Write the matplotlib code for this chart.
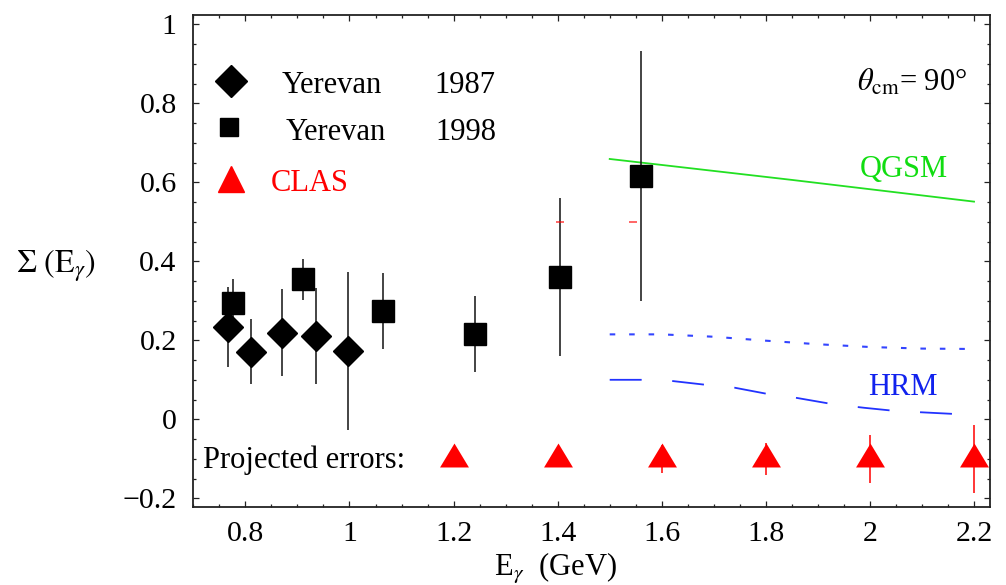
import numpy as np
import matplotlib
matplotlib.use("Agg")
import matplotlib.pyplot as plt
from matplotlib.ticker import FixedLocator, MultipleLocator

plt.rcParams['font.family'] = ['Liberation Serif', 'DejaVu Serif']
plt.rcParams['mathtext.fontset'] = 'stix'
plt.rcParams['lines.scale_dashes'] = False

# Yerevan 1987 (diamonds)
yer87_e = [0.766, 0.810, 0.870, 0.935, 0.997]
yer87_s = [0.234, 0.171, 0.219, 0.211, 0.174]
yer87_err = [0.101, 0.082, 0.110, 0.121, 0.200]

# Yerevan 1998 (squares)
yer98_e = [0.776, 0.910, 1.064, 1.241, 1.405, 1.560]
yer98_s = [0.294, 0.354, 0.274, 0.215, 0.360, 0.616]
yer98_err = [0.061, 0.051, 0.096, 0.096, 0.200, 0.317]

# CLAS projected errors
clas_e = [1.2, 1.4, 1.6, 1.8, 2.0, 2.2]
clas_s = [-0.1, -0.1, -0.1, -0.1, -0.1, -0.1]
clas_err = [0.020, 0.022, 0.035, 0.041, 0.060, 0.086]

# stray red caps
caps_e = [1.405, 1.545]
caps_s = [0.5, 0.5]

# model curves
qgsm_e = [1.5, 1.85, 2.2]
qgsm_s = [0.659, 0.606, 0.551]

hrm_dot_e = [1.5, 1.6, 1.7, 1.8, 1.9, 2.0, 2.1, 2.2]
hrm_dot_s = [0.215, 0.215, 0.209, 0.199, 0.190, 0.183, 0.179, 0.178]

hrm_dash_e = [1.5, 1.56, 1.62, 1.68, 1.74, 1.8, 1.86, 1.93, 1.99, 2.05, 2.11, 2.17, 2.2]
hrm_dash_s = [0.100, 0.100, 0.097, 0.088, 0.080, 0.065, 0.054, 0.038, 0.029, 0.021, 0.017, 0.013, 0.012]

x_ticks = [0.8, 1.0, 1.2, 1.4, 1.6, 1.8, 2.0, 2.2]
x_tick_labels = ['0.8', '1', '1.2', '1.4', '1.6', '1.8', '2', '2.2']
y_ticks = [-0.2, 0.0, 0.2, 0.4, 0.6, 0.8, 1.0]
y_tick_labels = ['\u22120.2', '0', '0.2', '0.4', '0.6', '0.8', '1']

fig = plt.figure(figsize=(10.06, 5.85), dpi=100)
ax = fig.add_axes([0.1922, 0.1338, 0.7919, 0.8406])

ax.set_xlim(0.7, 2.2307)
ax.set_ylim(-0.2213, 1.0235)

# clas triangle, a bit flatter than the stock '^'
tri = [(-0.905, -0.5), (0.905, -0.5), (0.0, 1.0), (-0.905, -0.5)]

ax.plot(qgsm_e, qgsm_s, color='#22e022', lw=1.3)
ax.plot(hrm_dot_e, hrm_dot_s, color='#3344ff', lw=1.5, dashes=(4, 10))
ax.plot(hrm_dash_e, hrm_dash_s, color='#2233ff', lw=1.3, dashes=(23, 22))

ax.errorbar(yer98_e, yer98_s, yerr=yer98_err, fmt='s', color='black', ms=15.8,
            ecolor='#111111', elinewidth=1.1, capsize=0)
ax.errorbar(yer87_e, yer87_s, yerr=yer87_err, fmt='D', color='black', ms=15,
            ecolor='#111111', elinewidth=1.1, capsize=0)
ax.errorbar(clas_e, clas_s, yerr=clas_err, fmt='none', ecolor='red',
            elinewidth=1.1, capsize=0)
ax.plot(clas_e, clas_s, ls='none', marker=tri, ms=23, color='red', mew=0)
ax.plot(caps_e, caps_s, ls='none', marker='_', ms=6, color='red', mew=1.2, alpha=0.7)

# hand made legend
tA = ax.transAxes
ax.plot([0.0473], [0.8664], marker='D', ms=16.5, color='black', transform=tA)
ax.plot([0.0451], [0.7716], marker='s', ms=13.5, color='black', transform=tA)
ax.plot([0.0476], [0.6661], marker='^', ms=18.5, color='red', transform=tA)
fs = 22
ax.text(0.111, 0.842, 'Yerevan', fontsize=fs, transform=tA, va='baseline')
ax.text(0.302, 0.842, '1987', fontsize=fs, transform=tA, va='baseline')
ax.text(0.1164, 0.7458, 'Yerevan', fontsize=fs, transform=tA, va='baseline')
ax.text(0.3034, 0.7458, '1998', fontsize=fs, transform=tA, va='baseline')
ax.text(0.0972, 0.6427, 'CLAS', fontsize=fs, color='red', transform=tA, va='baseline')

ax.text(0.9708, 0.8459, r'$\theta_{\rm cm}$= 90°', fontsize=fs, transform=tA,
        ha='right', va='baseline')
ax.text(0.836, 0.6711, 'QGSM', fontsize=fs, color='#11dd11', transform=tA, va='baseline')
ax.text(0.8472, 0.2271, 'HRM', fontsize=fs, color='#1122ee', transform=tA, va='baseline')
ax.text(0.01255, 0.0781, 'Projected errors:', fontsize=fs, transform=tA, va='baseline')

# axes, ticks
ax.xaxis.set_major_locator(FixedLocator(x_ticks))
ax.set_xticklabels(x_tick_labels)
ax.xaxis.set_minor_locator(MultipleLocator(0.05))
ax.yaxis.set_major_locator(FixedLocator(y_ticks))
ax.set_yticklabels(y_tick_labels)
ax.yaxis.set_minor_locator(MultipleLocator(0.05))
ax.tick_params(which='both', direction='in', top=True, right=True, labelsize=21.5,
               color='#222222', width=0.9)
ax.tick_params(which='major', length=4.3)
ax.tick_params(which='minor', length=2.4)
ax.tick_params(axis='x', pad=10)
ax.tick_params(axis='y', pad=12)
for s in ax.spines.values():
    s.set_linewidth(1.3)
    s.set_color('#222222')

ax.set_xlabel(r'E$_\gamma$  (GeV)', fontsize=fs)
ax.xaxis.set_label_coords(0.455, -0.09)
ax.set_ylabel(r'$\Sigma\ (\mathrm{E}_{\gamma})$', fontsize=23, rotation=0, va='center')
ax.yaxis.set_label_coords(-0.172, 0.49)

fig.savefig('out.png', dpi=100, facecolor='white')
